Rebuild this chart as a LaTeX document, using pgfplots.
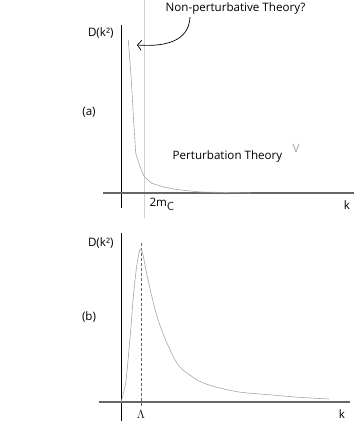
\documentclass[border=0pt]{standalone}
\usepackage{pgfplots}
\pgfplotsset{compat=1.18}
\usetikzlibrary{arrows.meta}
\usepackage{fontspec}
\setmainfont{Open Sans}

\pgfplotsset{
  sketch/.style={
    scale only axis, axis lines=none, clip=false,
    xmin=-21, xmax=233, width=254pt,
  },
  curve/.style={no markers, color=gray!70, line width=0.6pt},
}

\begin{document}
\begin{tikzpicture}[font=\fontsize{11.6}{13}\selectfont]
  \path[use as bounding box] (0,0) rectangle (354pt,421pt);

  % (a) propagator diverging near threshold
  \begin{axis}[sketch, at={(100pt,211pt)}, anchor=south west,
      ymin=-17, ymax=193, height=210pt]
    \addplot[gray!35, line width=0.5pt] coordinates {(23.3,193) (23.3,-25)};
    \addplot[black, line width=0.7pt] coordinates {(0,168) (0,-15)};
    \addplot[gray!80!black, line width=1.4pt] coordinates {(-18,0) (233,0)};
    \addplot[curve] coordinates {
      (7.3,153) (10.3,113) (12.5,75) (14.7,40) (19,26.3) (23.3,16.3)
      (30.7,9.7) (44,5.7) (54,3.7) (79,1) (130,0)
    };
    \node[anchor=east] at (axis cs:-4,160) {D(k²)};
    \node at (axis cs:-32,81) {(a)};
    \node at (axis cs:106.5,37) {Perturbation Theory};
    \node[gray!70] at (axis cs:175,45) {V};
    \node[anchor=west] at (axis cs:25,-11) {2m$_{\mathrm{\textsf{C}}}$};
    \node at (axis cs:226,-12) {k};
    \node at (axis cs:114.5,185) {Non-perturbative Theory?};
    \draw[-{Straight Barb[length=4pt,width=10pt]}, line width=0.7pt]
      (axis cs:69,176)
      .. controls (axis cs:68,152) and (axis cs:45,146) .. (axis cs:16,148);
  \end{axis}

  % (b) propagator peaked at Lambda
  \begin{axis}[sketch, at={(100pt,0pt)}, anchor=south west,
      ymin=-19, ymax=192, height=211pt]
    \addplot[gray!80!black, densely dashed, line width=0.5pt]
      coordinates {(20.3,159) (20.3,-5)};
    \addplot[black, line width=0.7pt] coordinates {(0,169) (0,-19)};
    \addplot[gray!80!black, line width=1.4pt] coordinates {(-22,0) (229,0)};
    \addplot[curve, smooth] coordinates {
      (0,0) (2.5,9) (5.3,24) (9.7,72) (12.3,105) (16.3,140) (20.3,153)
      (27,122) (35,89) (43,66) (53,44) (61,33) (78,21) (95,15)
      (118,10) (151,7) (178,4.7) (208,3)
    };
    \node[anchor=east] at (axis cs:-4,159) {D(k²)};
    \node at (axis cs:-32,85) {(b)};
    \node at (axis cs:20,-12) {$\Lambda$};
    \node at (axis cs:221,-12) {k};
  \end{axis}
\end{tikzpicture}
\end{document}
